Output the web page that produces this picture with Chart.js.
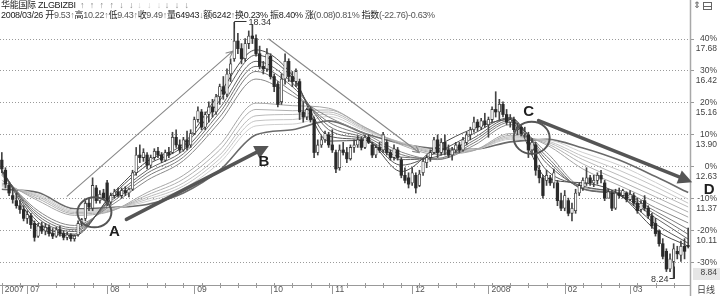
<!DOCTYPE html>
<html>
<head>
<meta charset="utf-8">
<script src="https://cdn.jsdelivr.net/npm/chart.js@4.4.1/dist/chart.umd.min.js"></script>
<style>
  html, body { margin: 0; padding: 0; background: #fff; }
  #box { position: relative; width: 720px; height: 296px; overflow: hidden; }
  #c { position: absolute; left: 0; top: 0; }
  .hd { position: absolute; left: 1px; white-space: nowrap; font-family: "Liberation Sans", "Noto Sans CJK SC", sans-serif; font-size: 9px; letter-spacing: -0.3px; line-height: 10px; color: #222; }
  #l1 { top: 0; }
  #l2 { top: 10px; }
  #l1 .g, #l1 .lg { letter-spacing: 1.4px; }
  .n { color: #555; }
  .g { color: #888; }
  .lg { color: #ccc; }
</style>
</head>
<body>
<div id="box">
  <canvas id="c" width="720" height="296"></canvas>
  <div class="hd" id="l1">华能国际 ZLGBIZBI&nbsp; <span class="g">↑ ↑ ↑ ↑ ↓ ↓</span> <span class="lg">↓ ↓ ↓</span> <span class="g">↓ ↓ ↓</span></div>
  <div class="hd" id="l2"></div>
</div>
<script>
// 日K线 2007/06 - 2008/03/26
const opens = [12.9,12.5,11.9,11.5,11.3,11.1,10.95,10.6,10.7,10.4,
  9.9,10.3,10.1,10.25,10.0,9.9,10.15,10.0,9.85,9.95,
  9.8,9.95,10.4,10.6,11.2,11.0,11.8,11.3,11.6,12.0,
  11.25,11.5,11.65,11.5,11.7,11.6,11.75,12.4,13.1,13.0,
  13.1,12.7,13.0,13.25,13.1,12.9,13.2,13.2,13.8,13.5,
  13.3,13.7,13.5,13.95,14.5,14.8,14.2,14.7,15.0,14.8,
  15.4,15.8,15.5,16.3,16.9,17.6,17.3,16.9,17.5,17.8,
  17.7,17.1,16.6,16.5,17.0,16.2,15.9,15.2,16.1,16.8,
  16.2,16.0,16.0,14.8,14.6,14.9,14.5,13.2,13.5,13.7,
  13.9,13.5,13.2,12.6,13.3,13.2,12.95,13.4,13.5,13.7,
  13.4,13.8,13.5,13.1,13.4,13.3,13.6,13.2,13.0,13.3,
  12.9,12.3,12.2,12.0,12.3,11.9,12.4,12.8,13.0,13.2,
  13.7,13.2,13.6,13.3,13.1,13.3,13.5,13.3,13.6,13.9,
  14.1,14.4,14.2,14.45,14.3,14.5,14.9,14.8,15.1,14.7,
  14.4,14.5,14.1,14.2,13.95,13.9,13.3,13.5,12.5,12.2,
  12.1,12.2,12.0,12.0,11.3,11.0,11.3,10.8,10.9,11.6,
  11.8,12.0,12.2,12.0,12.1,12.3,12.0,11.4,11.6,11.0,
  11.6,11.5,11.6,11.35,11.5,11.2,10.95,11.3,11.0,10.7,
  10.4,10.1,9.6,9.3,8.6,8.9,9.3,9.15,9.5,9.53];
const highs = [13.2,12.6,12.0,11.8,11.6,11.3,11.1,10.9,10.8,10.5,
  10.4,10.45,10.4,10.35,10.2,10.25,10.3,10.1,10.05,10.0,
  9.95,10.5,10.6,11.3,11.4,12.2,11.9,11.7,11.75,12.1,
  11.6,11.75,11.8,11.8,11.85,11.8,12.5,13.4,13.5,13.35,
  13.2,13.1,13.35,13.4,13.2,13.3,13.4,14.0,14.1,13.7,
  13.8,14.05,14.1,14.6,15.0,14.9,14.8,15.2,15.3,15.5,
  15.9,16.2,16.5,16.9,18.34,17.9,17.5,17.7,18.0,18.25,
  17.85,17.4,16.8,17.3,17.1,16.3,16.0,16.3,17.1,16.9,
  16.4,16.5,16.1,15.2,14.95,15.0,14.6,13.7,13.85,14.05,
  14.0,14.1,13.3,13.5,13.6,13.4,13.5,13.7,13.85,13.8,
  13.9,13.9,13.6,13.5,13.6,14.0,13.7,13.3,13.5,13.4,
  13.0,12.6,12.4,12.6,12.4,12.5,12.95,13.1,13.3,13.8,
  13.9,13.75,13.9,13.5,13.4,13.6,13.6,13.8,14.0,14.2,
  14.6,14.5,14.55,14.75,14.6,15.0,15.6,15.3,15.2,14.9,
  14.7,14.6,14.35,14.3,14.2,14.0,13.75,13.6,12.7,12.3,
  12.5,12.3,12.55,12.1,11.6,11.7,11.4,11.2,11.75,12.0,
  12.2,12.6,12.3,12.3,12.4,12.5,12.1,11.75,11.7,11.75,
  11.8,11.75,11.65,11.7,11.6,11.4,11.3,11.5,11.1,10.8,
  10.6,10.15,9.8,9.4,9.2,9.6,9.5,9.7,9.8,10.22];
const lows = [12.4,11.8,11.5,11.2,11.0,10.8,10.5,10.4,10.2,9.7,
  9.85,10.0,9.95,9.9,9.8,9.85,9.9,9.75,9.75,9.7,
  9.7,9.9,10.3,10.5,10.9,10.9,11.2,11.2,11.35,11.1,
  11.15,11.4,11.45,11.4,11.5,11.45,11.7,12.3,12.8,12.85,
  12.55,12.6,12.9,13.0,12.8,12.85,13.0,13.15,13.4,13.2,
  13.25,13.3,13.4,13.9,14.4,14.1,14.1,14.4,14.6,14.7,
  15.1,15.3,15.4,16.0,16.8,17.1,16.7,16.8,17.3,17.5,
  17.0,16.5,16.3,16.4,16.1,15.6,15.0,15.1,15.9,16.0,
  15.8,15.8,14.5,14.4,14.5,14.4,13.0,13.1,13.4,13.6,
  13.4,13.2,12.4,12.5,13.1,12.8,12.9,13.2,13.4,13.3,
  13.35,13.55,13.0,13.0,13.2,13.2,13.1,12.9,12.9,12.9,
  12.2,12.0,11.8,11.9,11.6,11.85,12.3,12.6,12.85,13.15,
  13.0,13.1,13.1,13.0,12.9,13.2,13.2,13.25,13.5,13.7,
  14.0,14.05,14.1,14.2,13.8,14.4,14.6,14.5,14.6,14.3,
  14.2,14.0,13.9,13.85,13.8,13.0,13.1,12.3,12.0,11.4,
  11.9,11.9,11.8,11.1,10.9,10.9,10.7,10.5,10.8,11.5,
  11.7,11.9,11.9,11.85,11.95,12.0,11.3,11.4,10.9,10.95,
  11.4,11.4,11.25,11.3,11.1,10.8,10.85,10.9,10.6,10.2,
  9.9,9.5,9.0,8.5,8.5,8.24,9.0,8.9,9.0,9.43];
const closes = [12.55,11.95,11.6,11.35,11.1,10.95,10.6,10.75,10.35,9.85,
  10.3,10.1,10.25,10.0,9.9,10.15,10.0,9.85,9.95,9.8,
  9.9,10.4,10.55,11.2,11.05,11.9,11.3,11.55,11.4,11.2,
  11.5,11.65,11.5,11.7,11.6,11.75,12.4,13.1,13.0,13.2,
  12.7,13.0,13.25,13.1,12.9,13.2,13.1,13.8,13.5,13.3,
  13.7,13.4,13.95,14.5,14.85,14.2,14.7,15.0,14.8,15.4,
  15.8,15.5,16.3,16.7,17.6,17.3,16.9,17.5,17.8,17.7,
  17.1,16.6,16.5,17.1,16.2,15.8,15.1,16.1,16.8,16.2,
  16.0,16.4,14.8,14.6,14.9,14.5,13.2,13.5,13.7,13.95,
  13.5,13.3,12.55,13.3,13.2,12.95,13.4,13.5,13.7,13.4,
  13.8,13.6,13.1,13.4,13.3,13.9,13.2,13.0,13.35,13.0,
  12.3,12.1,11.95,12.4,11.8,12.35,12.85,13.0,13.2,13.7,
  13.2,13.6,13.3,13.1,13.3,13.5,13.3,13.7,13.9,14.1,
  14.4,14.2,14.45,14.3,14.5,14.9,14.8,15.1,14.7,14.4,
  14.5,14.1,14.2,13.95,14.0,13.3,13.6,12.5,12.2,11.5,
  12.3,12.0,12.4,11.3,11.0,11.5,10.8,11.0,11.6,11.9,
  12.1,12.2,12.0,12.1,12.3,12.15,11.4,11.65,11.0,11.6,
  11.5,11.7,11.35,11.55,11.2,10.9,11.2,11.0,10.7,10.3,
  10.0,9.6,9.1,8.6,9.0,9.4,9.2,9.5,9.3,9.49];
const days = opens.map((_, i) => i);

// 月份刻度
const monthStart = [0, 7, 29, 53, 74, 91, 113, 134, 155, 173];
const monthLabels = ['2007', '07', '08', '09', '10', '11', '12', '2008', '02', '03'];

// 右轴刻度 (基准 12.63)
const yTicks = [8.84, 10.11, 11.37, 12.63, 13.90, 15.16, 16.42, 17.68];
const pctLabels = ['-30%', '-20%', '-10%', '0%', '10%', '20%', '30%', '40%'];

// 均线组 (读图取样点)
const maAt = [0, 10, 20, 30, 40, 50, 60, 70, 80, 90, 100, 110, 120, 130, 140, 150, 160, 170, 180, 189];
const ema3  = [12.5,10.3,9.92,11.5,12.85,13.55,15.55,17.25,16.25,13.65,13.68,12.45,13.45,14.15,14.5,12.2,12.0,11.55,10.15,9.5];
const ema5  = [12.5,10.45,9.98,11.45,12.7,13.45,15.25,17.05,16.15,13.85,13.7,12.7,13.22,13.95,14.58,12.5,11.88,11.52,10.38,9.62];
const ema8  = [12.45,10.6,10.08,11.35,12.5,13.28,14.95,16.8,15.95,14.1,13.72,12.92,13.05,13.78,14.55,12.78,11.78,11.52,10.62,9.78];
const ema10 = [12.4,10.7,10.15,11.28,12.38,13.15,14.78,16.6,15.8,14.25,13.78,13.02,12.97,13.68,14.47,12.92,11.75,11.56,10.76,9.97];
const ema12 = [12.35,10.8,10.22,11.2,12.25,13.02,14.6,16.4,15.6,14.4,13.85,13.12,12.93,13.58,14.4,13.05,11.76,11.62,10.88,10.17];
const ema15 = [12.3,10.9,10.32,11.1,12.1,12.88,14.4,16.1,15.45,14.6,13.95,13.22,12.92,13.48,14.3,13.2,11.82,11.7,11.02,10.42];
const ema30 = [12.1,11.3,10.72,10.88,11.62,12.3,13.5,15.15,15.05,14.95,14.2,13.5,13.12,13.28,13.95,13.5,12.55,11.9,11.25,10.65];
const ema35 = [12.0,11.38,10.78,10.9,11.52,12.15,13.3,14.9,14.85,14.88,14.18,13.55,13.18,13.28,13.88,13.56,12.75,12.1,11.45,10.85];
const ema40 = [11.95,11.45,10.83,10.93,11.43,12.0,13.1,14.65,14.7,14.8,14.14,13.58,13.22,13.3,13.82,13.62,12.92,12.3,11.65,11.05];
const ema45 = [11.9,11.5,10.88,10.96,11.35,11.88,12.95,14.45,14.5,14.72,14.1,13.6,13.26,13.3,13.77,13.66,13.05,12.5,11.85,11.2];
const ema50 = [11.85,11.55,10.93,10.99,11.27,11.77,12.8,14.25,14.32,14.62,14.05,13.6,13.3,13.32,13.72,13.7,13.2,12.7,12.02,11.36];
const ema60 = [11.75,11.62,10.98,11.03,11.15,11.6,12.5,13.9,14.1,14.45,13.95,13.55,13.35,13.33,13.62,13.72,13.38,12.9,12.25,11.62];

// 手绘标注 (数据坐标: 序号, 价格)
const thinArrows = [[18.0, 11.48, 63.6, 17.2], [73.5, 17.68, 115.0, 13.19]];
const thickArrows = [[34.3, 10.56, 73.5, 13.46], [147.8, 14.46, 190.1, 12.03]];
const rings = [[25.5, 10.84, 17, 15], [145.9, 13.78, 18, 16]];
const letters = [['A', 31.0, 10.08], ['B', 72.2, 12.83], ['C', 145.1, 14.82], ['D', 194.8, 11.72]];

const last = opens.length - 1;
document.getElementById('l2').innerHTML =
  '2008/03/26 开<span class="n">' + opens[last].toFixed(2) + '</span><span class="g">↑</span>' +
  '高<span class="n">' + highs[last].toFixed(2) + '</span><span class="g">↑</span>' +
  '低<span class="n">' + lows[last].toFixed(2) + '</span><span class="g">↑</span>' +
  '收<span class="n">' + closes[last].toFixed(2) + '</span><span class="g">↑</span>' +
  '量64943<span class="g">↓</span>额6242<span class="g">↑</span>换0.23% 振8.40% 涨<span class="n">(0.08)0.81%</span> 指数<span class="n">(-22.76)-0.63%</span>';

const isUp = i => closes[i] >= opens[i];

const maStyles = [
  [ema3, '#4c4c4c', 1], [ema5, '#585858', 1], [ema8, '#646464', 1], [ema10, '#707070', 1], [ema12, '#7c7c7c', 1], [ema15, '#888', 1],
  [ema30, '#a6a6a6', 1], [ema35, '#b0b0b0', 1], [ema40, '#bababa', 1], [ema45, '#c4c4c4', 1], [ema50, '#cecece', 1], [ema60, '#6a6a6a', 1.6]
];

function drawArrow(ctx, x1, y1, x2, y2, thick) {
  const ang = Math.atan2(y2 - y1, x2 - x1);
  ctx.save();
  ctx.lineCap = 'round';
  if (thick) {
    const head = 14, half = 7;
    const bx = x2 - head * Math.cos(ang), by = y2 - head * Math.sin(ang);
    ctx.strokeStyle = '#555'; ctx.fillStyle = '#555'; ctx.lineWidth = 3.5;
    ctx.beginPath(); ctx.moveTo(x1, y1); ctx.lineTo(bx, by); ctx.stroke();
    ctx.beginPath(); ctx.moveTo(x2, y2);
    ctx.lineTo(bx + half * Math.sin(ang), by - half * Math.cos(ang));
    ctx.lineTo(bx - half * Math.sin(ang), by + half * Math.cos(ang));
    ctx.closePath(); ctx.fill();
  } else {
    ctx.strokeStyle = '#888'; ctx.lineWidth = 1.1;
    ctx.beginPath(); ctx.moveTo(x1, y1); ctx.lineTo(x2, y2);
    [0.45, -0.45].forEach(d => {
      ctx.moveTo(x2, y2);
      ctx.lineTo(x2 - 7 * Math.cos(ang + d), y2 - 7 * Math.sin(ang + d));
    });
    ctx.stroke();
  }
  ctx.restore();
}

const overlay = {
  id: 'overlay',
  beforeDraw(chart) {
    const { ctx, chartArea, scales: { y } } = chart;
    ctx.save();
    ctx.fillStyle = '#e6e6e6';
    ctx.fillRect(chartArea.right + 3, y.getPixelForValue(yTicks[0]) + 5, 27, 12);
    ctx.restore();
  },
  afterDraw(chart) {
    const { ctx, chartArea, scales: { x, y } } = chart;
    const px = v => x.getPixelForValue(v), py = v => y.getPixelForValue(v);
    ctx.save();
    // 右侧竖轴线
    ctx.strokeStyle = '#a8a8a8'; ctx.lineWidth = 1.5;
    ctx.beginPath(); ctx.moveTo(chartArea.right + 0.5, 0); ctx.lineTo(chartArea.right + 0.5, chart.height); ctx.stroke();
    // 时间轴刻度
    ctx.strokeStyle = '#999'; ctx.lineWidth = 1;
    ctx.beginPath();
    for (let i = 0; i < days.length; i += 5) {
      const xx = Math.round(px(i)) + 0.5;
      ctx.moveTo(xx, chartArea.bottom - 2); ctx.lineTo(xx, chartArea.bottom + 3);
    }
    monthStart.forEach(i => {
      const xx = Math.round(px(i)) + 0.5;
      ctx.moveTo(xx, chartArea.bottom); ctx.lineTo(xx, chartArea.bottom + 9);
    });
    ctx.stroke();
    // 标注线
    thinArrows.forEach(a => drawArrow(ctx, px(a[0]), py(a[1]), px(a[2]), py(a[3]), false));
    thickArrows.forEach(a => drawArrow(ctx, px(a[0]), py(a[1]), px(a[2]), py(a[3]), true));
    ctx.strokeStyle = '#555'; ctx.lineWidth = 2;
    rings.forEach(r => {
      ctx.beginPath(); ctx.ellipse(px(r[0]), py(r[1]), r[2], r[3], 0, 0, Math.PI * 2); ctx.stroke();
    });
    ctx.fillStyle = '#1e1e1e';
    ctx.font = 'bold 15px "Liberation Sans", sans-serif';
    ctx.textAlign = 'center'; ctx.textBaseline = 'middle';
    letters.forEach(l => ctx.fillText(l[0], px(l[1]), py(l[2])));
    // 最高/最低价标记
    const hi = highs.indexOf(Math.max(...highs)), lo = lows.indexOf(Math.min(...lows));
    ctx.strokeStyle = '#333'; ctx.lineWidth = 1; ctx.fillStyle = '#333';
    ctx.font = '9px "Liberation Sans", sans-serif'; ctx.textBaseline = 'middle';
    let hx = Math.round(px(hi)) + 0.5, hy = Math.round(py(highs[hi])) - 0.5;
    ctx.beginPath(); ctx.moveTo(hx, hy + 7); ctx.lineTo(hx, hy); ctx.lineTo(hx + 12, hy); ctx.stroke();
    ctx.textAlign = 'left'; ctx.fillText(highs[hi].toFixed(2), hx + 14, hy + 1);
    let lx = Math.round(px(lo)) + 0.5, ly = Math.round(py(lows[lo])) + 0.5;
    ctx.beginPath(); ctx.moveTo(lx, ly - 12); ctx.lineTo(lx, ly); ctx.lineTo(lx - 5, ly); ctx.stroke();
    ctx.textAlign = 'right'; ctx.fillText(lows[lo].toFixed(2), lx - 6, ly + 1);
    // 右上角图标和日线
    ctx.fillStyle = '#555'; ctx.font = '9px "DejaVu Sans", sans-serif'; ctx.textAlign = 'left';
    ctx.fillText('⇕', chartArea.right + 3, 6);
    ctx.strokeStyle = '#666'; ctx.strokeRect(chartArea.right + 13.5, 2.5, 8, 7);
    ctx.beginPath(); ctx.moveTo(chartArea.right + 13.5, 6.5); ctx.lineTo(chartArea.right + 21.5, 6.5); ctx.stroke();
    ctx.fillStyle = '#444'; ctx.font = '9px "Noto Sans CJK SC", sans-serif';
    ctx.fillText('日线', chartArea.right + 7, chartArea.bottom + 5);
    ctx.restore();
  }
};

new Chart(document.getElementById('c'), {
  type: 'bar',
  data: {
    labels: days,
    datasets: [
      {
        type: 'bar', data: opens.map((o, i) => [o, closes[i]]),
        backgroundColor: c => isUp(c.dataIndex) ? '#fff' : '#2a2a2a',
        borderColor: '#3a3a3a', borderWidth: c => isUp(c.dataIndex) ? 0.8 : 0,
        borderSkipped: false, barThickness: 2.6, grouped: false, minBarLength: 1, order: 0
      },
      {
        type: 'bar', data: lows.map((l, i) => [l, highs[i]]),
        backgroundColor: '#444', barThickness: 1, grouped: false, order: 1
      },
      ...maStyles.map(m => ({
        type: 'line', data: maAt.map((xv, k) => ({ x: xv, y: m[0][k] })),
        borderColor: m[1], borderWidth: m[2], pointRadius: 0,
        cubicInterpolationMode: 'monotone', order: 2
      }))
    ]
  },
  options: {
    responsive: false,
    animation: false,
    layout: { padding: { top: 0, right: 3, bottom: 0, left: 0 } },
    plugins: { legend: { display: false }, tooltip: { enabled: false } },
    scales: {
      x: {
        type: 'category', offset: true,
        grid: { display: false, drawTicks: false },
        border: { display: true, color: '#999', width: 1 },
        afterBuildTicks: s => { s.ticks = monthStart.map(v => ({ value: v })); },
        afterFit: s => { s.height = 11; s.paddingLeft = 0; s.paddingRight = 0; },
        ticks: {
          autoSkip: false, maxRotation: 0, align: 'start', labelOffset: 3, padding: 0,
          color: '#555', font: { family: 'Liberation Sans', size: 8.5 },
          callback: (v, i) => monthLabels[i]
        }
      },
      y: {
        position: 'right', min: 7.97, max: 19.22,
        grid: { color: '#9a9a9a', lineWidth: 1, tickLength: 4, tickColor: '#999', tickBorderDash: [] },
        border: { display: false, dash: [1, 2] },
        afterBuildTicks: s => { s.ticks = yTicks.map(v => ({ value: v })); },
        afterFit: s => { s.width = 27; s.paddingTop = 0; s.paddingBottom = 0; },
        ticks: {
          crossAlign: 'far', padding: 1, labelOffset: 5,
          color: '#444', font: { family: 'Liberation Sans', size: 8.5 },
          callback: (v, i) => [pctLabels[i], yTicks[i].toFixed(2)]
        }
      }
    }
  },
  plugins: [overlay]
});
</script>
</body>
</html>
